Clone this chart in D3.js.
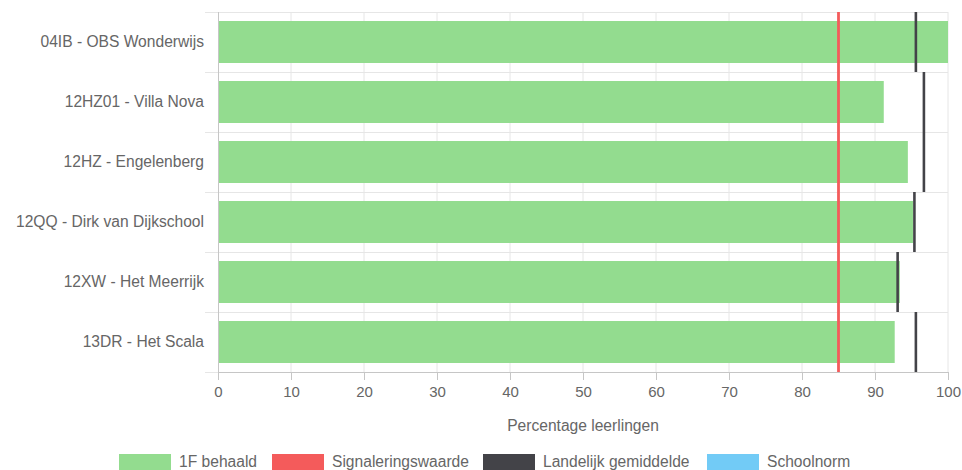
<!DOCTYPE html>
<html>
<head>
<meta charset="utf-8">
<script src="https://cdn.jsdelivr.net/npm/d3@7"></script>
<style>
  body { margin: 0; background: #fff; }
  svg { display: block; font-family: "Liberation Sans", Arial, sans-serif; }
</style>
</head>
<body>
<div id="chart"></div>
<script>
// categories and values
const scholen = [
  "04IB - OBS Wonderwijs",
  "12HZ01 - Villa Nova",
  "12HZ - Engelenberg",
  "12QQ - Dirk van Dijkschool",
  "12XW - Het Meerrijk",
  "13DR - Het Scala"
]
const behaald = [100, 91.2, 94.5, 95.2, 93.4, 92.7]
const landelijk = [95.6, 96.7, 96.7, 95.4, 93.1, 95.6]
const signalering = 85
const xTicks = [0, 10, 20, 30, 40, 50, 60, 70, 80, 90, 100]
const legendItems = ["1F behaald", "Signaleringswaarde", "Landelijk gemiddelde", "Schoolnorm"]
const legendColors = ["#93dc8f", "#f45b5b", "#434348", "#72cbf6"]

var W = 962, H = 470
var margin = {top: 12, right: 14, bottom: 98, left: 218},
    width = W - margin.left - margin.right,
    height = H - margin.top - margin.bottom;

var svg = d3.select("#chart").append("svg")
    .attr("width", W)
    .attr("height", H)

var g = svg.append("g")
    .attr("transform", "translate(" + margin.left + "," + margin.top + ")")

var x = d3.scaleLinear().domain([0, 100]).range([0, width])
var y = d3.scaleBand().domain(scholen).range([0, height]).paddingInner(0.3).paddingOuter(0.15)
var yRow = d3.scaleBand().domain(scholen).range([0, height])

// vertical grid
g.append("g").selectAll("line")
  .data(xTicks.slice(1))
  .join("line")
    .attr("x1", d => x(d)).attr("x2", d => x(d))
    .attr("y1", 0).attr("y2", height)
    .attr("stroke", "#e6e6e6")

// horizontal grid at category borders (with tick stub to the left)
var borders = scholen.map(d => yRow(d)).concat([height])
g.append("g").selectAll("line")
  .data(borders)
  .join("line")
    .attr("x1", -13).attr("x2", width)
    .attr("y1", d => d + 0.5).attr("y2", d => d + 0.5)
    .attr("stroke", "#e6e6e6")

// bars
g.append("g").selectAll("rect")
  .data(scholen)
  .join("rect")
    .attr("x", 0)
    .attr("y", d => y(d))
    .attr("width", (d, i) => x(behaald[i]))
    .attr("height", y.bandwidth())
    .attr("fill", legendColors[0])

// signaleringswaarde
g.append("line")
  .attr("x1", x(signalering)).attr("x2", x(signalering))
  .attr("y1", 0).attr("y2", height)
  .attr("stroke", legendColors[1])
  .attr("stroke-width", 2.8)

// landelijk gemiddelde
g.append("g").selectAll("line")
  .data(scholen)
  .join("line")
    .attr("x1", (d, i) => x(landelijk[i])).attr("x2", (d, i) => x(landelijk[i]))
    .attr("y1", d => yRow(d)).attr("y2", d => yRow(d) + yRow.bandwidth())
    .attr("stroke", legendColors[2])
    .attr("stroke-width", 2.6)

// y axis line
g.append("line")
  .attr("x1", 0.5).attr("x2", 0.5)
  .attr("y1", 0).attr("y2", height)
  .attr("stroke", "#c6c6c6")

// x axis
var xAxis = g.append("g")
  .attr("transform", "translate(0," + height + ")")
  .call(d3.axisBottom(x).tickValues(xTicks).tickSize(8).tickPadding(6))
xAxis.select(".domain").attr("stroke", "#c6c6c6")
xAxis.selectAll(".tick line").attr("stroke", "#c6c6c6")
xAxis.selectAll("text").attr("fill", "#666").attr("font-size", 15)
  .attr("font-family", "Liberation Sans, Arial, sans-serif")

// category labels
g.append("g").selectAll("text")
  .data(scholen)
  .join("text")
    .attr("x", -14)
    .attr("y", d => yRow(d) + yRow.bandwidth() / 2)
    .attr("dy", "0.35em")
    .attr("text-anchor", "end")
    .attr("fill", "#666")
    .attr("font-size", 15.6)
    .text(d => d)

// axis title
g.append("text")
  .attr("x", width / 2)
  .attr("y", height + 59)
  .attr("text-anchor", "middle")
  .attr("fill", "#666")
  .attr("font-size", 15.6)
  .text("Percentage leerlingen")

// legend
var legendX = [119, 272, 483, 707]
var legend = svg.append("g").selectAll("g")
  .data(legendItems)
  .join("g")
    .attr("transform", (d, i) => "translate(" + legendX[i] + ",454)")
legend.append("rect")
  .attr("width", 52).attr("height", 16)
  .attr("fill", (d, i) => legendColors[i])
legend.append("text")
  .attr("x", 60).attr("y", 8)
  .attr("dy", "0.35em")
  .attr("fill", "#666")
  .attr("font-size", 15.6)
  .text(d => d)
</script>
</body>
</html>
